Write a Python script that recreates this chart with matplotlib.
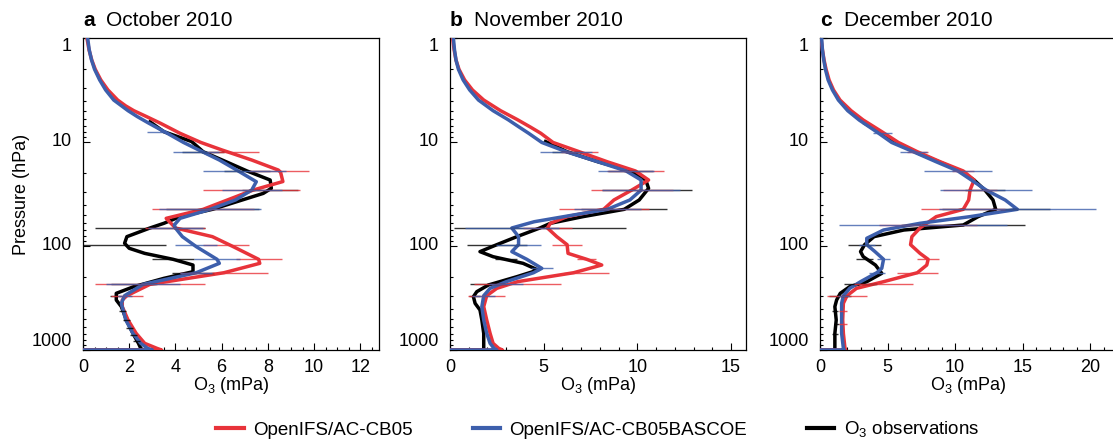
import numpy as np
import matplotlib
matplotlib.use("Agg")
import matplotlib.pyplot as plt
from matplotlib.lines import Line2D
from matplotlib.ticker import FixedLocator, MultipleLocator, NullFormatter, LogLocator

plt.rcParams['font.family'] = ['Liberation Sans', 'DejaVu Sans']
plt.rcParams['mathtext.fontset'] = 'custom'
plt.rcParams['mathtext.rm'] = 'Liberation Sans'

RED = '#E8333A'
BLUE = '#3D5FAC'
BLACK = '#000000'

# ---------------- data -----------------
panel_letters = ['a', 'b', 'c']
panel_titles = ['October 2010', 'November 2010', 'December 2010']
x_limits = [12.81, 15.8, 21.9]
x_major = [2, 5, 5]
x_minor = [0.5, 1, 1]
series_labels = ['OpenIFS/AC-CB05', 'OpenIFS/AC-CB05BASCOE', 'O$_3$ observations']

# October 2010
a_red_p = [1.0, 1.3, 1.63, 2.0, 2.53, 3.16, 3.95, 4.5, 5.0, 5.7, 6.6, 8.25, 10.1, 11.9, 14.9, 18.6,
           19.5, 24.0, 29.0, 44.4, 54.2, 67.1, 81.3, 101.4, 134.3, 146.8, 180.7, 233.7, 300.4,
           330.7, 383.1, 514.7, 691.8, 862.9, 964, 1000, 1000]
a_red_x = [0.17, 0.26, 0.38, 0.53, 0.77, 1.08, 1.5, 1.85, 2.2, 2.75, 3.35, 4.2, 5.1, 6.0, 7.3, 8.45,
           8.55, 8.65, 7.36, 5.2, 3.6, 4.0, 5.6, 6.5, 7.6, 7.65, 6.1, 2.9, 1.9,
           1.7, 1.7, 1.95, 2.3, 2.67, 3.2, 3.4, 0.0]
a_blue_p = [1.0, 1.3, 1.63, 2.0, 2.53, 3.16, 3.95, 5.0, 5.7, 6.6, 8.25, 10.1, 11.9, 14.9, 18.6,
            24.1, 29.0, 36.1, 44.4, 54.2, 62.8, 67.1, 81.3, 101.4, 134.3, 146.8, 180.7, 233.7,
            300.4, 355.9, 514.7, 691.8, 862.9, 964, 1000, 1000]
a_blue_x = [0.2, 0.27, 0.37, 0.5, 0.72, 0.98, 1.33, 1.95, 2.35, 2.85, 3.65, 4.35, 5.0, 5.9, 6.65,
            7.5, 7.3, 6.6, 5.5, 4.2, 3.95, 4.0, 4.3, 4.9, 5.8, 5.9, 4.9, 2.6,
            1.8, 1.66, 1.85, 2.16, 2.5, 2.8, 3.0, 0.0]
a_obs_p = [6.4, 7.96, 9.9, 12.4, 15.5, 19.0, 23.2, 27.9, 31.2, 44.4, 52.2, 60.5, 67.1, 81.3, 94.2,
           105.2, 117.7, 134.3, 152.4, 176.6, 204.7, 246.0, 285.1, 330.7, 383.1, 514.7, 691.8,
           862.9, 964, 1000, 1000]
a_obs_x = [2.9, 3.5, 4.7, 5.2, 6.2, 7.1, 8.1, 8.15, 7.8, 5.6, 4.2, 3.5, 2.9, 1.9, 1.8,
           2.0, 2.67, 3.9, 4.76, 4.76, 3.5, 2.2, 1.44, 1.44, 1.66, 1.88, 2.16,
           2.4, 2.5, 2.6, 0.0]

# November 2010
b_red_p = [1.0, 1.3, 1.63, 2.0, 2.53, 3.16, 3.95, 5.0, 6.1, 7.2, 8.25, 10.1, 12.4, 15.5, 19.0,
           23.2, 29.0, 36.1, 44.4, 52.2, 60.5, 67.1, 81.3, 97.1, 117.7, 134.3, 152.4, 180.7,
           220.4, 255.3, 300.4, 383.1, 514.7, 691.8, 862.9, 964, 1000, 1000]
b_red_x = [0.14, 0.22, 0.32, 0.48, 0.78, 1.2, 1.8, 2.7, 3.6, 4.3, 4.85, 5.5, 6.9, 8.4, 9.9,
           10.6, 9.7, 8.75, 8.2, 6.25, 5.36, 5.2, 5.7, 6.25, 6.3, 7.3, 8.1, 6.6,
           3.6, 2.5, 1.96, 1.8, 1.96, 2.14, 2.3, 2.6, 2.8, 0.0]
b_blue_p = [1.0, 1.3, 1.63, 2.0, 2.53, 3.16, 3.95, 5.0, 6.1, 7.2, 8.25, 10.1, 12.4, 15.5, 19.0,
            23.2, 29.0, 36.1, 44.4, 50.3, 58.4, 67.1, 81.3, 97.1, 113.3, 134.3, 164.0, 180.7,
            220.4, 255.3, 300.4, 383.1, 514.7, 691.8, 862.9, 964, 1000, 1000]
b_blue_x = [0.18, 0.24, 0.32, 0.45, 0.7, 1.05, 1.52, 2.3, 3.1, 3.7, 4.2, 4.9, 6.2, 7.9, 9.4,
            10.2, 10.2, 9.6, 8.4, 6.6, 4.5, 3.3, 3.66, 3.66, 3.3, 4.1, 4.9, 4.46,
            3.0, 2.14, 1.8, 1.7, 1.8, 1.96, 2.14, 2.35, 2.5, 0.0]
b_obs_p = [9.9, 12.4, 15.5, 19.0, 23.2, 27.9, 36.1, 44.4, 52.2, 60.5, 67.1, 81.3, 97.1, 113.3,
           126.7, 146.8, 170.2, 197.3, 237.1, 274.9, 307.2, 355.9, 412.2, 514.7, 691.8, 928.9,
           1000, 1000]
b_obs_x = [5.1, 6.25, 7.9, 9.64, 10.45, 10.6, 10.1, 9.3, 7.1, 5.36, 4.8, 3.57, 2.5, 1.6,
           2.3, 3.9, 4.7, 3.57, 2.05, 1.43, 1.25, 1.34, 1.6, 1.7, 1.8, 1.8,
           1.8, 0.0]

# December 2010
c_red_p = [1.0, 1.3, 1.63, 2.0, 2.53, 3.16, 3.95, 5.0, 6.15, 8.0, 10.1, 12.4, 15.5, 19.0, 23.2,
           29.0, 36.1, 44.4, 52.2, 67.1, 81.3, 97.1, 117.7, 134.3, 152.4, 180.7, 220.4, 255.3,
           300.4, 355.9, 514.7, 691.8, 964, 1000, 1000]
c_red_x = [0.07, 0.18, 0.3, 0.45, 0.67, 1.0, 1.48, 2.3, 3.2, 4.6, 5.8, 7.2, 8.9, 10.6, 11.4,
           11.1, 11.0, 10.6, 8.6, 7.4, 6.8, 6.7, 7.4, 8.0, 7.9, 7.2, 4.7, 2.7,
           2.0, 1.73, 1.68, 1.73, 1.85, 1.9, 0.0]
c_blue_p = [1.0, 1.3, 1.63, 2.0, 2.53, 3.16, 3.95, 5.0, 6.15, 8.0, 10.1, 12.4, 15.5, 19.0, 23.2,
            29.0, 36.1, 44.4, 52.2, 60.5, 70.2, 84.3, 97.1, 113.3, 134.3, 164.0, 180.7, 220.4,
            255.3, 300.4, 355.9, 514.7, 691.8, 964, 1000, 1000]
c_blue_x = [0.12, 0.18, 0.28, 0.4, 0.6, 0.92, 1.36, 2.05, 2.9, 4.2, 5.3, 6.9, 8.6, 10.2, 11.2,
            12.3, 13.7, 14.6, 11.1, 7.4, 4.7, 3.46, 3.46, 4.07, 4.7, 4.57, 4.2, 3.0,
            2.2, 1.73, 1.6, 1.6, 1.6, 1.73, 1.8, 0.0]
c_obs_p = [6.6, 8.0, 10.1, 12.4, 15.5, 19.0, 23.2, 29.0, 36.1, 44.4, 52.2, 62.8, 70.2, 81.3, 97.1,
           113.3, 126.7, 152.4, 183.2, 220.4, 246.0, 285.1, 330.7, 383.1, 514.7, 691.8, 928.9,
           1000, 1000]
c_obs_x = [3.3, 4.4, 5.55, 7.0, 8.8, 10.4, 11.4, 12.2, 12.8, 13.0, 11.7, 10.6, 6.2, 4.0, 3.3,
           3.0, 3.2, 4.1, 4.57, 3.46, 2.2, 1.5, 1.23, 1.1, 1.2, 1.1, 1.1,
           1.1, 0.0]

# error bars: pressure level, centre, half width
a_red_err_p = [12.4, 19.0, 29.0, 44.4, 67.1, 97.1, 134.3, 180.7, 233.7, 300.4]
a_red_err_c = [6.5, 8.5, 7.3, 5.2, 4.0, 6.2, 7.6, 6.1, 2.9, 1.9]
a_red_err_h = [1.1, 1.3, 2.1, 2.2, 1.3, 1.0, 1.0, 1.9, 2.4, 0.7]
a_blue_err_p = [7.96, 12.4, 19.0, 29.0, 44.4, 67.1, 97.1, 134.3, 180.7, 233.7, 300.4]
a_blue_err_c = [3.2, 4.9, 7.0, 7.3, 5.5, 4.0, 4.9, 5.8, 4.9, 2.6, 1.8]
a_blue_err_h = [0.45, 1.0, 1.8, 1.3, 2.2, 1.2, 0.9, 1.0, 0.7, 1.6, 0.3]
a_obs_err_p = [12.4, 19.0, 29.0, 44.4, 67.1, 97.1, 134.3, 180.7, 233.7, 300.4, 420, 520, 620, 720, 820]
a_obs_err_c = [5.2, 7.1, 8.1, 5.6, 2.9, 1.8, 3.9, 4.76, 2.2, 1.44, 1.7, 1.88, 2.0, 2.2, 2.3]
a_obs_err_h = [0.9, 1.0, 1.2, 2.0, 2.4, 1.8, 0.9, 0.9, 1.0, 0.25, 0.15, 0.15, 0.15, 0.15, 0.15]

b_red_err_p = [12.4, 19.0, 29.0, 44.4, 67.1, 97.1, 134.3, 180.7, 233.7, 300.4]
b_red_err_c = [6.9, 9.9, 9.7, 8.2, 5.2, 6.25, 7.3, 7.3, 3.6, 1.96]
b_red_err_h = [1.0, 1.5, 2.2, 2.4, 1.3, 0.8, 0.5, 1.2, 2.3, 1.0]
b_blue_err_p = [12.4, 19.0, 29.0, 44.4, 67.1, 97.1, 164.0, 233.7, 300.4]
b_blue_err_c = [6.2, 9.4, 10.2, 8.4, 3.3, 3.66, 4.9, 3.0, 1.8]
b_blue_err_h = [1.4, 1.5, 2.1, 1.8, 2.5, 1.2, 0.6, 0.9, 0.6]
b_obs_err_p = [12.4, 19.0, 29.0, 44.4, 67.1, 97.1, 134.3, 233.7, 300.4]
b_obs_err_c = [6.25, 9.64, 10.5, 9.3, 4.8, 2.5, 3.0, 2.05, 1.3]
b_obs_err_h = [0.8, 1.2, 2.4, 2.3, 4.6, 1.6, 0.6, 1.0, 0.3]

c_red_err_p = [12.4, 19.0, 29.0, 44.4, 62.8, 134.3, 180.7, 233.7, 300.4, 420, 560]
c_red_err_c = [7.2, 10.6, 11.1, 10.6, 8.0, 8.0, 7.2, 4.7, 2.0, 1.7, 1.7]
c_red_err_h = [0.8, 0.8, 2.0, 3.1, 3.6, 0.8, 1.5, 2.2, 1.5, 0.3, 0.3]
c_blue_err_p = [8.25, 12.4, 19.0, 29.0, 44.4, 62.8, 97.1, 134.3, 180.7, 300.4]
c_blue_err_c = [4.6, 6.9, 10.2, 12.3, 14.6, 7.6, 3.46, 4.7, 4.2, 1.73]
c_blue_err_h = [0.7, 1.0, 2.5, 3.4, 5.8, 6.2, 0.6, 0.5, 0.6, 0.4]
c_obs_err_p = [29.0, 44.4, 62.8, 97.1, 134.3, 233.7, 300.4, 420, 560, 700]
c_obs_err_c = [12.2, 13.0, 10.6, 3.3, 3.3, 3.0, 1.5, 1.1, 1.2, 1.1]
c_obs_err_h = [1.5, 4.0, 4.6, 1.2, 0.6, 1.2, 0.8, 0.2, 0.2, 0.2]

panels = [
    dict(red=(a_red_x, a_red_p), blue=(a_blue_x, a_blue_p), obs=(a_obs_x, a_obs_p),
         red_err=(a_red_err_p, a_red_err_c, a_red_err_h),
         blue_err=(a_blue_err_p, a_blue_err_c, a_blue_err_h),
         obs_err=(a_obs_err_p, a_obs_err_c, a_obs_err_h)),
    dict(red=(b_red_x, b_red_p), blue=(b_blue_x, b_blue_p), obs=(b_obs_x, b_obs_p),
         red_err=(b_red_err_p, b_red_err_c, b_red_err_h),
         blue_err=(b_blue_err_p, b_blue_err_c, b_blue_err_h),
         obs_err=(b_obs_err_p, b_obs_err_c, b_obs_err_h)),
    dict(red=(c_red_x, c_red_p), blue=(c_blue_x, c_blue_p), obs=(c_obs_x, c_obs_p),
         red_err=(c_red_err_p, c_red_err_c, c_red_err_h),
         blue_err=(c_blue_err_p, c_blue_err_c, c_blue_err_h),
         obs_err=(c_obs_err_p, c_obs_err_c, c_obs_err_h)),
]

# ---------------- figure -----------------
W, H = 1113, 443
fig = plt.figure(figsize=(W / 100, H / 100), dpi=100)

lefts = [83, 450, 820]
ax_w = 296
ax_top, ax_bot = 38, 350

for i, (left, pdata) in enumerate(zip(lefts, panels)):
    ax = fig.add_axes([left / W, 1 - ax_bot / H, ax_w / W, (ax_bot - ax_top) / H])
    ax.set_yscale('log')
    ax.set_ylim(1000, 1)
    ax.set_xlim(0, x_limits[i])

    for key, col in (('obs', BLACK), ('red', RED), ('blue', BLUE)):
        xs, ps = pdata[key]
        ax.plot(xs, ps, color=col, lw=2.5, solid_joinstyle='round', zorder=3)
    for key, col in (('obs_err', BLACK), ('red_err', RED), ('blue_err', BLUE)):
        ps, cs, hs = pdata[key]
        ps = np.array(ps); cs = np.array(cs); hs = np.array(hs)
        ax.hlines(ps, cs - hs, cs + hs, colors=col, lw=1.0, alpha=0.8, zorder=4)

    ax.xaxis.set_major_locator(MultipleLocator(x_major[i]))
    ax.xaxis.set_minor_locator(MultipleLocator(x_minor[i]))
    ax.yaxis.set_major_locator(FixedLocator([1, 10, 100, 1000]))
    ax.yaxis.set_minor_locator(LogLocator(base=10, subs=np.arange(2, 10)))
    ax.yaxis.set_minor_formatter(NullFormatter())
    ax.set_yticklabels([])
    for pv, lab, va in ((1, '1', 'top'), (10, '10', 'center'), (100, '100', 'center'),
                        (1000, '1000', 'bottom')):
        ax.text(-0.038, pv, lab, transform=ax.get_yaxis_transform(), ha='right', va=va, fontsize=13)

    ax.tick_params(axis='both', which='both', direction='in', top=False, right=False,
                   width=0.8, labelsize=13)
    ax.tick_params(axis='both', which='major', length=5)
    ax.tick_params(axis='both', which='minor', length=2.5)
    ax.tick_params(axis='x', pad=6.5)
    for sp in ax.spines.values():
        sp.set_linewidth(0.9)

    ax.set_xlabel('O$_3$ (mPa)', fontsize=13)
    ax.xaxis.set_label_coords(0.5, -0.08)
    if i == 0:
        ax.set_ylabel('Pressure (hPa)', fontsize=13)
        ax.yaxis.set_label_coords(-0.18, 0.5)

    fig.text(left / W, 1 - 26 / H, panel_letters[i], fontsize=15, fontweight='bold', va='baseline')
    fig.text((left + 23.5) / W, 1 - 26 / H, panel_titles[i], fontsize=15, va='baseline')

handles = [Line2D([], [], color=RED, lw=3), Line2D([], [], color=BLUE, lw=3),
           Line2D([], [], color=BLACK, lw=3)]
fig.legend(handles, series_labels, loc='center', bbox_to_anchor=(0.537, 1 - 430 / H),
           ncol=3, frameon=False, fontsize=13.5, handlelength=1.45, handletextpad=0.5,
           columnspacing=3.2)

fig.savefig('out.png', dpi=100)
